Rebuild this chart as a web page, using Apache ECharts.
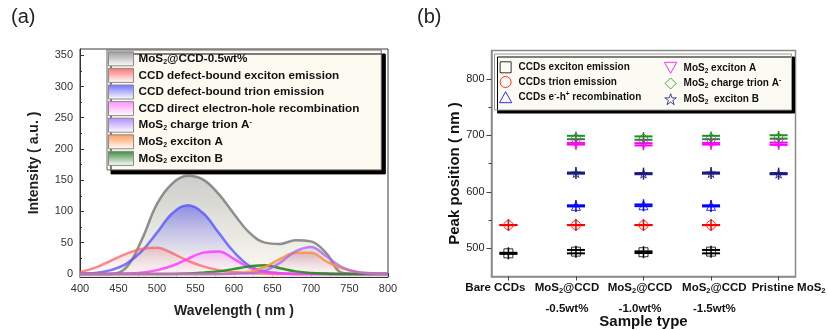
<!DOCTYPE html>
<html><head><meta charset="utf-8">
<script src="https://cdn.jsdelivr.net/npm/echarts@6/dist/echarts.min.js"></script>
<style>html,body{margin:0;padding:0;background:#fff}#c{width:828px;height:330px}</style>
</head><body><div id="c"></div>
<script>
// ================= Panel (a) data =================
const wavelength = [400,420,440,460,480,500,520,540,560,580,600,620,640,660,680,700,720,740,760,780,800];
const totalSpectrum  = [0,0,0,10,54,112,145,157,151,128,96,66,50,48,54,52,33,2,0,0,0];
const defectExciton  = [3,10,21,32,40,42,33,21,12,6,3,1,0.3,0,0,0,0,0,0,0,0];
const defectTrion    = [0.5,1.5,6,16,36,66,97,110,97,66,35,13,4,1,0,0,0,0,0,0,0];
const directRecomb   = [0,0,0,0.5,2,6,13,24,34,36,24,10,3,1,0,0,0,0,0,0,0];
const mos2TrionAm    = [0,0,0,0,0,0,0,0,0,0,0.3,1,5,18,36,43,28,11,3,1,0.3];
const mos2ExcitonA   = [0,0,0,0,0,0,0,0,0,0,1,3,11,24,34,34,20,9,3,0.5,0];
const mos2ExcitonB   = [0,0,0,0,0,0,0,0.5,2,4,8,12,14,9,4,1.5,0.5,0,0,0,0];
const legendNamesA = [
  'MoS_{2}@CCD-0.5wt%',
  'CCD defect-bound exciton emission',
  'CCD defect-bound trion emission',
  'CCD direct electron-hole recombination',
  'MoS_{2} charge trion A^{-}',
  'MoS_{2} exciton A',
  'MoS_{2} exciton B'
];
const intensityTicks = [0,50,100,150,200,250,300,350];
const intensityMinorTicks = [25,75,125,175,225,275,325];

// ================= Panel (b) data =================
const sampleTypes = ['Bare CCDs','MoS_{2}@CCD\n-0.5wt%','MoS_{2}@CCD\n-1.0wt%','MoS_{2}@CCD\n-1.5wt%','Pristine MoS_{2}'];
const samplePos = [1,2,3,4,5];
const ccdExcitonPeak  = [491,494,493,494,null];
const ccdExcitonErr   = [1,3,1.5,3,null];
const ccdTrionPeak    = [541,541,541,541,null];
const ccdTrionErr     = [0,0,0,0,null];
const ccdRecombPeak   = [null,575,576,575,null];
const ccdRecombErr    = [null,1,1.5,1,null];
const mos2ExcAPeak    = [null,685,684,685,685];
const mos2ExcAErr     = [null,1.5,2,1.5,2];
const mos2TrionPeak   = [null,696,695,696,697];
const mos2TrionErr    = [null,3,3,3,3];
const mos2ExcBPeak    = [null,633,632,633,632];
const mos2ExcBErr     = [null,1,1,1,1];
const legendNamesB = [
  'CCDs exciton emission','CCDs trion emission','CCDs e^{-}-h^{+} recombination',
  'MoS_{2} exciton A','MoS_{2} charge trion A^{-}','MoS_{2}  exciton B'
];
const peakTicks = [500,600,700,800];
const peakMinorTicks = [550,650,750];

// ================= helpers =================
function toRich(s, main, sub, sup, pre, post) {
  return s.split('\n').map(function (line) {
    let out = pre || '', last = 0, m;
    const re = /(_|\^)\{([^}]*)\}/g;
    while ((m = re.exec(line))) {
      if (m.index > last) out += '{' + main + '|' + line.slice(last, m.index) + '}';
      out += '{' + (m[1] === '_' ? sub : sup) + '|' + m[2] + '}';
      last = re.lastIndex;
    }
    if (last < line.length) out += '{' + main + '|' + line.slice(last) + '}';
    return out + (post || '');
  }).join('\n');
}
const FONT = 'Liberation Sans, Arial, sans-serif';
function grad(top, bottom) {
  return new echarts.graphic.LinearGradient(0, 0, 0, 1, [{offset: 0, color: top}, {offset: 1, color: bottom}]);
}

// ---- panel (a) series styles ----
const specA = [
  {name: legendNamesA[0], data: totalSpectrum, line: 'rgba(125,125,125,0.85)', top: 'rgba(180,180,174,0.95)', bottom: 'rgba(252,249,238,0.95)', icon: ['#9a9a9a', '#ffffff']},
  {name: legendNamesA[2], data: defectTrion,   line: 'rgba(80,80,255,0.75)',  top: 'rgba(95,95,232,0.9)',  bottom: 'rgba(255,250,250,0.2)', icon: ['#7070ff', '#ffffff']},
  {name: legendNamesA[1], data: defectExciton, line: 'rgba(250,100,100,0.75)', top: 'rgba(235,140,140,0.55)', bottom: 'rgba(255,240,240,0.2)', icon: ['#ff7070', '#ffffff']},
  {name: legendNamesA[3], data: directRecomb,  line: 'rgba(255,60,255,0.85)', top: 'rgba(255,140,240,0.6)', bottom: 'rgba(255,255,255,0.1)', icon: ['#ff90ff', '#ffffff']},
  {name: legendNamesA[6], data: mos2ExcitonB,  line: 'rgba(30,140,30,0.9)',   top: 'rgba(80,150,80,0.35)',  bottom: 'rgba(255,255,255,0.05)', icon: ['#3a8a3a', '#ffffff']},
  {name: legendNamesA[5], data: mos2ExcitonA,  line: 'rgba(255,145,60,0.85)', top: 'rgba(195,100,95,0.6)',  bottom: 'rgba(255,240,235,0.1)', icon: ['#ff9a5a', '#ffffff']},
  {name: legendNamesA[4], data: mos2TrionAm,   line: 'rgba(170,100,240,0.75)', top: 'rgba(190,150,240,0.45)', bottom: 'rgba(255,255,255,0.05)', icon: ['#b08cff', '#ffffff']}
];
const seriesA = specA.map(function (s) {
  return {
    type: 'line', name: s.name, xAxisIndex: 0, yAxisIndex: 0,
    data: wavelength.map(function (w, i) { return [w, s.data[i]]; }),
    smooth: 0.4, showSymbol: false, symbol: 'none',
    lineStyle: {color: s.line, width: 2.5},
    itemStyle: {color: s.line},
    areaStyle: {color: grad(s.top, s.bottom), origin: 'start'},
    emphasis: {disabled: true}, silent: true
  };
});
const legendDataA = legendNamesA.map(function (n) {
  const s = specA.find(function (x) { return x.name === n; });
  return {name: n, icon: 'rect', itemStyle: {color: grad(s.icon[0], s.icon[1]), borderColor: '#8a8a8a', borderWidth: 1}};
});

// ---- panel (b) series ----
const specB = [
  {name: legendNamesB[0], peak: ccdExcitonPeak, err: ccdExcitonErr, color: '#000000', symbol: 'path://M0,0H10V10H0Z'},
  {name: legendNamesB[1], peak: ccdTrionPeak,   err: ccdTrionErr,   color: '#ff0000', symbol: 'circle'},
  {name: legendNamesB[2], peak: ccdRecombPeak,  err: ccdRecombErr,  color: '#0000ff', symbol: 'path://M5,0L10,9L0,9Z'},
  {name: legendNamesB[3], peak: mos2ExcAPeak,   err: mos2ExcAErr,   color: '#ff00ff', symbol: 'path://M0,0L10,0L5,9Z'},
  {name: legendNamesB[4], peak: mos2TrionPeak,  err: mos2TrionErr,  color: '#1f8f1f', symbol: 'path://M5,0L10,5L5,10L0,5Z'},
  {name: legendNamesB[5], peak: mos2ExcBPeak,   err: mos2ExcBErr,   color: '#1a1a80', symbol: 'path://M5,0L6.2,3.6L10,3.6L6.9,5.8L8.1,9.5L5,7.2L1.9,9.5L3.1,5.8L0,3.6L3.8,3.6Z'}
];
const seriesB = [];
specB.forEach(function (s) {
  const pts = [];
  s.peak.forEach(function (v, i) { if (v != null) pts.push([samplePos[i], v, s.err[i]]); });
  seriesB.push({
    type: 'scatter', name: 'b:' + s.name, xAxisIndex: 2, yAxisIndex: 2,
    data: pts, symbol: s.symbol, symbolSize: 9,
    itemStyle: {color: 'rgba(255,255,255,0)', borderColor: s.color, borderWidth: 1},
    emphasis: {disabled: true}, silent: true
  });
  seriesB.push({
    type: 'custom', name: 'b:' + s.name, xAxisIndex: 2, yAxisIndex: 2,
    data: pts, silent: true,
    renderItem: function (params, api) {
      const x = api.value(0), y = api.value(1), e = api.value(2);
      const c = api.coord([x, y]);
      const hi = api.coord([x, y + e]);
      const lo = api.coord([x, y - e]);
      const hw = 9, vh = 6;
      return {type: 'group', children: [
        {type: 'line', shape: {x1: c[0], y1: c[1] - vh, x2: c[0], y2: c[1] + vh}, style: {stroke: s.color, lineWidth: 1.5}},
        {type: 'line', shape: {x1: c[0] - hw, y1: hi[1], x2: c[0] + hw, y2: hi[1]}, style: {stroke: s.color, lineWidth: 2}},
        {type: 'line', shape: {x1: c[0] - hw, y1: lo[1], x2: c[0] + hw, y2: lo[1]}, style: {stroke: s.color, lineWidth: 2}}
      ]};
    }
  });
});
function legendDataB(names) {
  return names.map(function (n) {
    const s = specB.find(function (x) { return x.name === n; });
    return {name: 'b:' + n, icon: s.symbol, itemStyle: {color: 'rgba(255,255,255,0)', borderColor: s.color, borderWidth: 1}};
  });
}

const richA = {
  m: {fontFamily: FONT, fontSize: 11.7, fontWeight: 'bold', color: '#111', lineHeight: 14},
  s: {fontFamily: FONT, fontSize: 7, fontWeight: 'bold', color: '#111', lineHeight: 8, padding: [6, 0, 0, 0]},
  p: {fontFamily: FONT, fontSize: 7, fontWeight: 'bold', color: '#111', lineHeight: 8, padding: [0, 0, 6, 0]}
};
const richB = {
  m: {fontFamily: FONT, fontSize: 10, fontWeight: 'bold', color: '#111', lineHeight: 14},
  s: {fontFamily: FONT, fontSize: 6.5, fontWeight: 'bold', color: '#111', lineHeight: 7, padding: [6, 0, 0, 0]},
  p: {fontFamily: FONT, fontSize: 6.5, fontWeight: 'bold', color: '#111', lineHeight: 7, padding: [0, 0, 6, 0]}
};
// horizontal nudges (px) of the category labels relative to their ticks, as in the source figure
const labelNudge = [-13, -9, -3.5, 3.3, 10];
const richX = {
  m: {fontFamily: FONT, fontSize: 11.5, fontWeight: 'bold', color: '#111', lineHeight: 21},
  s: {fontFamily: FONT, fontSize: 7.5, fontWeight: 'bold', color: '#111', lineHeight: 8, padding: [6, 0, 0, 0]},
  p: {fontFamily: FONT, fontSize: 7.5, fontWeight: 'bold', color: '#111', lineHeight: 8, padding: [0, 0, 6, 0]}
};
labelNudge.forEach(function (d, i) {
  richX['g' + i] = {fontFamily: FONT, fontSize: 11.5, lineHeight: 21, width: Math.abs(d) * 2};
});
const legendB = {
  orient: 'vertical', top: 61.3, itemWidth: 16, itemHeight: 11, itemGap: 2.7, padding: 0,
  selectedMode: false, symbolKeepAspect: true,
  textStyle: {rich: richB},
  formatter: function (n) { return toRich(n.replace(/^b:/, ''), 'm', 's', 'p'); }
};

const option = {
  animation: false,
  backgroundColor: '#ffffff',
  title: [
    {text: '(a)', left: 11, top: 7, padding: 0, textStyle: {fontFamily: FONT, fontSize: 20, fontWeight: 'normal', color: '#222'}},
    {text: '(b)', left: 417, top: 7, padding: 0, textStyle: {fontFamily: FONT, fontSize: 20, fontWeight: 'normal', color: '#222'}}
  ],
  grid: [
    {left: 80, right: 440, top: 49, bottom: 53, show: true, borderColor: '#3a3a3a', borderWidth: 1, backgroundColor: 'transparent', outerBoundsMode: 'none', containLabel: false},
    {left: 491.5, right: 32.5, top: 50.5, bottom: 53.5, show: true, borderColor: '#8a8a8a', borderWidth: 1.5, backgroundColor: 'transparent', outerBoundsMode: 'none', containLabel: false}
  ],
  graphic: [
    {type: 'rect', left: 494, top: 53.5, z: 5, shape: {width: 297, height: 56},
     style: {fill: '#fcfbf3', stroke: '#9a9a9a', lineWidth: 1, shadowColor: '#000', shadowOffsetX: 3, shadowOffsetY: 3, shadowBlur: 0}}
  ],
  legend: [
    {
      orient: 'vertical', left: 107, top: 50, itemWidth: 25, itemHeight: 14, itemGap: 1.6,
      padding: [1.3, 22, 4, 1], backgroundColor: '#fcfaf0', borderColor: '#666', borderWidth: 1,
      shadowColor: '#000', shadowOffsetX: 4, shadowOffsetY: 4, shadowBlur: 0,
      selectedMode: false, data: legendDataA,
      textStyle: {rich: richA},
      formatter: function (n) { return toRich(n, 'm', 's', 'p'); }
    },
    Object.assign({}, legendB, {left: 499, z: 6, data: legendDataB(legendNamesB.slice(0, 3))}),
    Object.assign({}, legendB, {left: 664, z: 6, data: legendDataB(legendNamesB.slice(3))})
  ],
  xAxis: [
    {type: 'value', gridIndex: 0, min: 400, max: 800, interval: 50,
     name: 'Wavelength ( nm )', nameLocation: 'middle', nameGap: 27, nameMoveOverlap: false,
     nameTextStyle: {fontFamily: FONT, fontSize: 14, fontWeight: 'bold', color: '#222'},
     axisLine: {onZero: false, lineStyle: {color: '#333', width: 1}},
     axisTick: {inside: true, length: 4, lineStyle: {color: '#333'}},
     minorTick: {show: true, splitNumber: 2, length: 2, lineStyle: {color: '#333'}},
     axisLabel: {margin: 6, fontFamily: FONT, fontSize: 11, color: '#333', showMinLabel: true, showMaxLabel: true},
     splitLine: {show: false}},
    {type: 'value', gridIndex: 0, min: 400, max: 800, show: false},
    {type: 'value', gridIndex: 1, min: 0.75, max: 5.25,
     name: 'Sample type', nameLocation: 'middle', nameGap: 37.5, nameMoveOverlap: false,
     nameTextStyle: {fontFamily: FONT, fontSize: 15, fontWeight: 'bold', color: '#111'},
     axisLine: {onZero: false, lineStyle: {color: '#8a8a8a', width: 1.5}},
     axisTick: {inside: false, length: 4, customValues: samplePos, lineStyle: {color: '#444'}},
     axisLabel: {margin: 1, customValues: [0.75].concat(samplePos, [5.25]), rich: richX, hideOverlap: false,
       formatter: function (v) {
         const i = Math.round(v) - 1;
         if (Math.abs(v - Math.round(v)) > 0.01 || !sampleTypes[i]) return '';
         const d = labelNudge[i], g = '{g' + i + '| }';
         return toRich(sampleTypes[i], 'm', 's', 'p', d > 0 ? g : '', d < 0 ? g : '');
       }},
     splitLine: {show: false}}
  ],
  yAxis: [
    {type: 'value', gridIndex: 0, min: -5, max: 360, position: 'left',
     name: 'Intensity ( a.u. )', nameLocation: 'middle', nameGap: 39, nameMoveOverlap: false,
     nameTextStyle: {fontFamily: FONT, fontSize: 14, fontWeight: 'bold', color: '#222'},
     axisLine: {onZero: false, lineStyle: {color: '#333', width: 1}},
     axisTick: {inside: true, length: 4, customValues: intensityTicks, lineStyle: {color: '#333'}},
     axisLabel: {margin: 7, customValues: intensityTicks, fontFamily: FONT, fontSize: 11, color: '#333'},
     splitLine: {show: false}},
    {type: 'value', gridIndex: 0, min: -5, max: 360, position: 'left',
     axisLine: {show: false, onZero: false}, axisLabel: {show: false, customValues: intensityMinorTicks},
     axisTick: {show: true, inside: true, length: 2, customValues: intensityMinorTicks, lineStyle: {color: '#333'}},
     splitLine: {show: false}},
    {type: 'value', gridIndex: 1, min: 450, max: 850, position: 'left',
     name: 'Peak position ( nm )', nameLocation: 'middle', nameGap: 29, nameMoveOverlap: false,
     nameTextStyle: {fontFamily: FONT, fontSize: 15, fontWeight: 'bold', color: '#111', padding: [0, 20, 0, 0]},
     axisLine: {onZero: false, lineStyle: {color: '#8a8a8a', width: 1.5}},
     axisTick: {inside: false, length: 5, customValues: peakTicks, lineStyle: {color: '#444'}},
     axisLabel: {margin: 7, customValues: peakTicks, fontFamily: FONT, fontSize: 11, color: '#222'},
     splitLine: {show: false}},
    {type: 'value', gridIndex: 1, min: 450, max: 850, position: 'left',
     axisLine: {show: false, onZero: false}, axisLabel: {show: false, customValues: peakMinorTicks},
     axisTick: {show: true, inside: false, length: 3, customValues: peakMinorTicks, lineStyle: {color: '#444'}},
     splitLine: {show: false}}
  ],
  series: seriesA.concat(seriesB)
};
const chart = echarts.init(document.getElementById('c'), null, {renderer: 'canvas'});
chart.setOption(option);
</script></body></html>
